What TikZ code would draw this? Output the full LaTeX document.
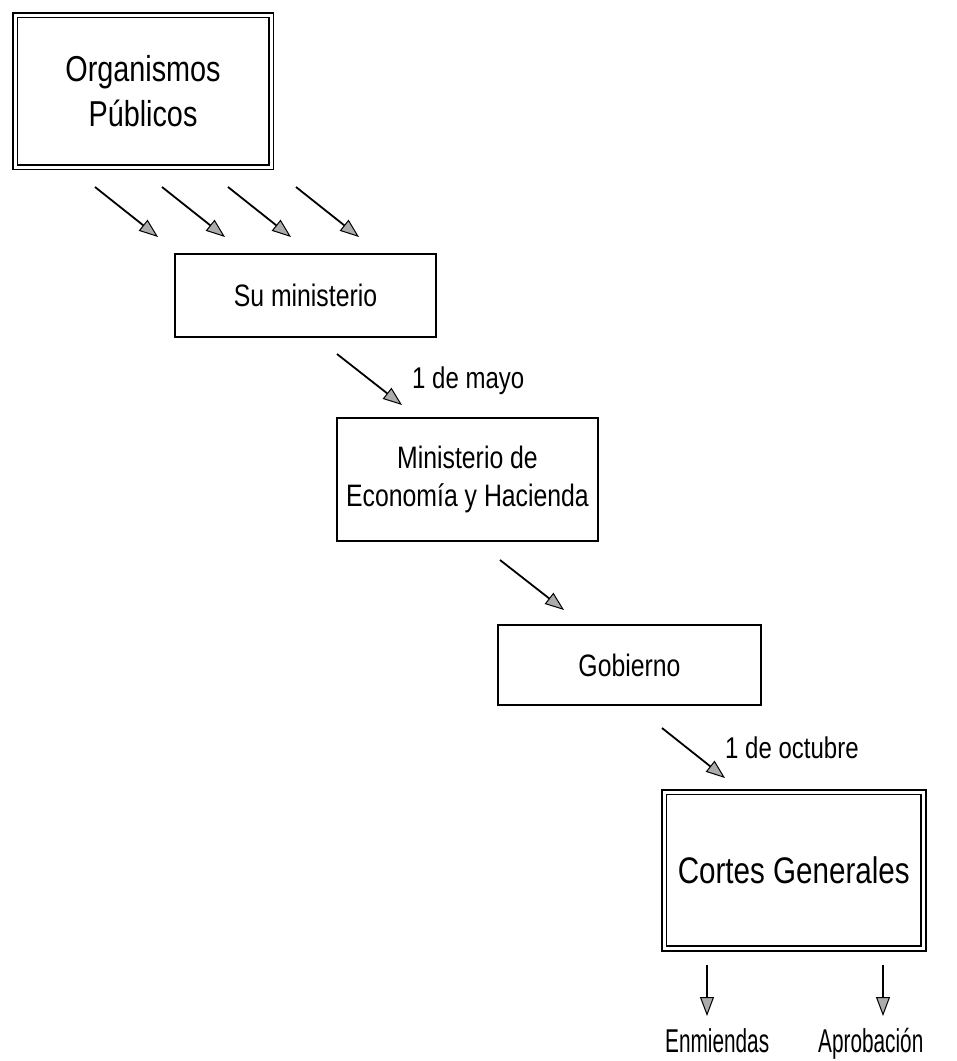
\documentclass[tikz,border=0pt]{standalone}
\usepackage{fontspec}
\setmainfont{Liberation Sans}[FakeStretch=0.8]
\newfontfamily\narrowfont{Liberation Sans}[FakeStretch=0.63]
\usetikzlibrary{arrows.meta}
\begin{document}
\begin{tikzpicture}[x=1pt,y=-1pt,
  box/.style={draw, line width=2pt, inner sep=0pt, align=center},
  dbox/.style={draw, double, double distance=3pt, line width=1.9pt, inner sep=0pt, align=center},
  arr/.style={line width=1.8pt, -{Triangle[length=19pt,width=14pt,fill=gray!65,line width=1pt]}},
  lbl/.style={inner sep=0pt, anchor=base west, font=\fontsize{30}{36}\selectfont}
]
\useasboundingbox (0,0) rectangle (957,1061);
\fill[white] (0,0) rectangle (957,1061);

\node[dbox, minimum width=256pt, minimum height=152pt,
  font=\fontsize{36}{45}\selectfont] (org) at (143,91) {Organismos\\Públicos};

\node[box, minimum width=261pt, minimum height=83pt,
  font=\fontsize{31}{38}\selectfont] (sum) at (305.5,295.5) {Su ministerio};

\node[box, minimum width=261pt, minimum height=123pt,
  font=\fontsize{31}{38}\selectfont] (meh) at (467.5,479.5) {Ministerio de\\Economía y Hacienda};

\node[box, minimum width=263pt, minimum height=80pt,
  font=\fontsize{31}{38}\selectfont] (gob) at (629.5,665) {Gobierno};

\node[dbox, minimum width=259.5pt, minimum height=156.5pt,
  font=\fontsize{37}{44}\selectfont] (cg) at (793.75,870.25) {Cortes Generales};

% arrow coordinates
\coordinate (o1s) at (95,187);  \coordinate (o1e) at (158,237);
\coordinate (o2s) at (162,187); \coordinate (o2e) at (225,237);
\coordinate (o3s) at (228,187); \coordinate (o3e) at (291,237);
\coordinate (o4s) at (296,187); \coordinate (o4e) at (359,237);
\coordinate (ms) at (337,354);  \coordinate (me) at (402,405);
\coordinate (hs) at (500,560);  \coordinate (he) at (564,610);
\coordinate (gs) at (662,728);  \coordinate (ge) at (725,778);
\coordinate (es) at (707,965);  \coordinate (ee) at (707,1016);
\coordinate (as) at (883,965);  \coordinate (ae) at (883,1016);

\draw[arr] (o1s) -- (o1e);
\draw[arr] (o2s) -- (o2e);
\draw[arr] (o3s) -- (o3e);
\draw[arr] (o4s) -- (o4e);
\draw[arr] (ms) -- (me);
\draw[arr] (hs) -- (he);
\draw[arr] (gs) -- (ge);
\draw[arr] (es) -- (ee);
\draw[arr] (as) -- (ae);

\node[lbl] (lmayo) at (412,388) {1 de mayo};
\node[lbl] (loct) at (725,758) {1 de octubre};
\node[lbl, font=\narrowfont\fontsize{33}{36}\selectfont] (lenm) at (665,1052) {Enmiendas};
\node[lbl, font=\narrowfont\fontsize{33}{36}\selectfont] (lapr) at (818,1052) {Aprobación};
\end{tikzpicture}
\end{document}
